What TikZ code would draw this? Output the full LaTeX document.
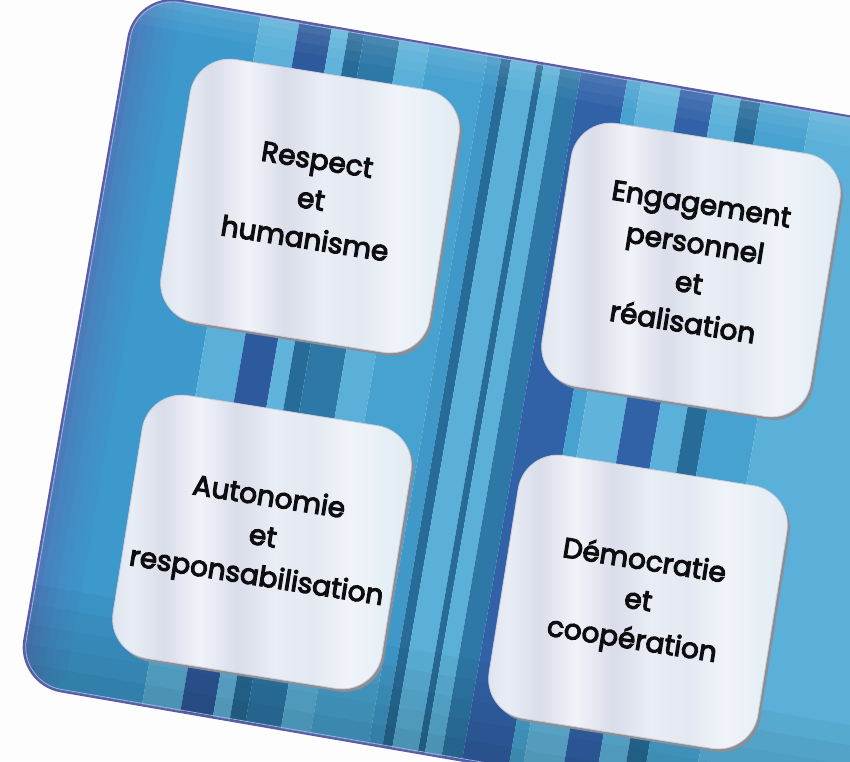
\documentclass[tikz,border=0pt]{standalone}
\usepackage{fontspec}
\newfontfamily\boxfont{Poppins}[FakeBold=4]
\usetikzlibrary{shadows}
\newcommand\liftup{\\[-26pt]\mbox{}}
\definecolor{bgwhite}{HTML}{FDFDFE}
\definecolor{rim}{HTML}{5B5CA6}
\definecolor{rimlight}{HTML}{A9ADDC}
\definecolor{stMed}{HTML}{3D98CC}
\definecolor{stMedB}{HTML}{3F98C8}
\definecolor{stMedC}{HTML}{48A2D0}
\definecolor{stLight}{HTML}{5AB0D8}
\definecolor{stLightB}{HTML}{60B4DB}
\definecolor{stNavy}{HTML}{2D5A9C}
\definecolor{stNavyB}{HTML}{3162A8}
\definecolor{stTeal}{HTML}{276C98}
\definecolor{stTealB}{HTML}{2D78A7}
\definecolor{boxshadow}{HTML}{8C8D95}
\definecolor{boxedge}{HTML}{C9CDD8}
\definecolor{txt}{HTML}{0E0E10}
\definecolor{bxA}{HTML}{DDE2EE}
\definecolor{bxB}{HTML}{E9EDF5}
\definecolor{bxC}{HTML}{DADDEA}
\definecolor{bxD}{HTML}{F0F3F8}
\definecolor{bxE}{HTML}{E3E9F2}
\definecolor{bxF}{HTML}{E6EFF6}
\pgfdeclarehorizontalshading{boxstripes}{100bp}{color(0bp)=(bxA); color(25bp)=(bxA); color(29bp)=(bxB); color(34bp)=(bxC); color(40bp)=(bxD); color(46bp)=(bxC); color(52bp)=(bxB); color(58bp)=(bxE); color(64bp)=(bxD); color(70bp)=(bxF); color(75bp)=(bxE); color(100bp)=(bxE)}
\tikzset{
  valuebox/.style={rounded corners=40pt, minimum width=272pt, minimum height=266pt,
    inner sep=0pt, align=center, shading=boxstripes, draw=boxedge, line width=0.8pt,
    font=\boxfont\fontsize{28}{40}\selectfont, text=txt, rotate=-9,
    general shadow={fill=boxshadow, shadow xshift=2.5pt, shadow yshift=-3pt}}
}
\begin{document}
\begin{tikzpicture}[x=1pt,y=-1pt]
\useasboundingbox (0,0) rectangle (850,761);
\fill[bgwhite] (0,0) rectangle (850,761);
\begin{scope}
\clip (0,0) rectangle (850,761);
\begin{scope}[shift={(136,-7)}, rotate=-9.8]
  \begin{scope}
    \clip[rounded corners=45pt] (0,0) rectangle (1000,701);
    \foreach \a/\b/\c in {0/127/stMed, 127/166/stLight, 166/199/stNavy, 199/216/stLightB,
      216/232/stTeal, 232/268/stTealB, 268/298/stLight, 298/357/stMedC, 357/371/stMedB,
      371/381/stTeal, 381/407/stLight, 407/414/stTeal, 414/431/stLight, 431/452/stTealB,
      452/499/stNavyB, 499/513/stMedC, 513/553/stLightB, 553/587/stNavyB, 587/614/stLight,
      614/634/stTeal, 634/685/stMedC, 685/1000/stLight}
      { \fill[\c] (\a,-10) rectangle (\b,720); }
    % darker left edge
    \foreach \k/\o in {0/0.45, 8/0.35, 16/0.25, 24/0.17, 32/0.1, 40/0.05}
      { \fill[rim, opacity=\o] (\k,-10) rectangle (\k+8,720); }
    % darker bottom band
    \foreach \k/\o in {600/0.04, 620/0.07, 640/0.1, 660/0.13, 680/0.16}
      { \fill[black, opacity=\o] (-10,\k) rectangle (1010,\k+20); }
    % lighter top band
    \foreach \k/\o in {0/0.12, 10/0.08, 20/0.04}
      { \fill[white, opacity=\o] (-10,\k) rectangle (1010,\k+10); }
  \end{scope}
  \draw[rim, line width=2pt, rounded corners=45pt] (0,0) rectangle (1000,701);
  \draw[rimlight, line width=0.8pt, rounded corners=43pt] (2,2) rectangle (998,699);
\end{scope}

\node[valuebox] (b1) at (310,206) {Respect\\et\\humanisme\liftup};
\node[valuebox] (b2) at (691,270) {Engagement\\personnel\\et\\réalisation\liftup};
\node[valuebox] (b3) at (262,542) {Autonomie\\et\\responsabilisation\liftup};
\node[valuebox] (b4) at (638,602) {Démocratie\\et\\coopération};
\end{scope}
\end{tikzpicture}
\end{document}
